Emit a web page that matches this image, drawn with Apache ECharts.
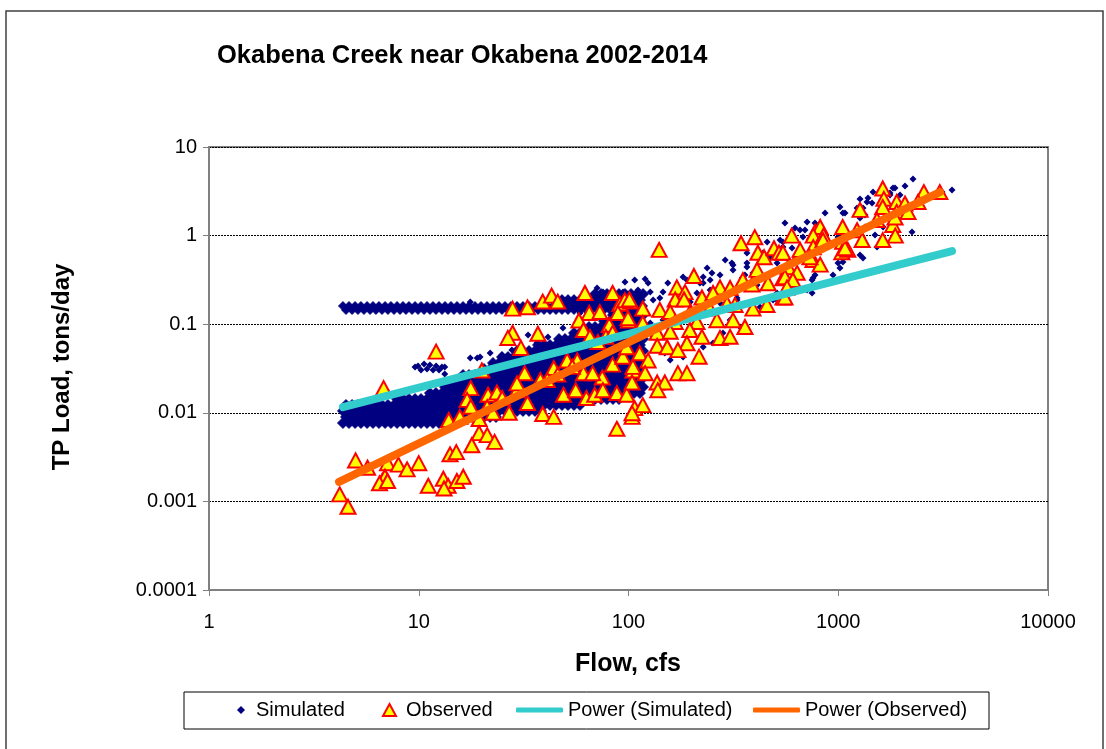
<!DOCTYPE html>
<html>
<head>
<meta charset="utf-8">
<script src="https://cdn.jsdelivr.net/npm/echarts@6/dist/echarts.min.js"></script>
<style>
html,body{margin:0;padding:0;background:#fff;}
#chart{width:1106px;height:749px;}
</style>
</head>
<body>
<div id="chart"></div>
<script>
// ---------- DATA ----------
const titleText = 'Okabena Creek near Okabena 2002-2014';
const xAxisName = 'Flow, cfs';
const yAxisName = 'TP Load, tons/day';
const xTickLabels = ['1', '10', '100', '1000', '10000'];
const yTickLabels = ['0.0001', '0.001', '0.01', '0.1', '1', '10'];

// Dense part of the simulated cloud, read row by row: [load, [flows]]
const simulatedCloudRows = [
  [0.00767, [4.35,4.65,4.97,5.30,5.67,6.05,6.46,6.91,7.37,7.88,8.41,8.98,9.60,10.25,10.95,11.69,12.49,13.34,14.25,15.22]],
  [0.00897, [4.50,4.81,5.13,5.48,5.86,6.25,6.68,7.13,7.62,8.14,8.69,9.29,9.92,10.60,11.31,12.08,12.91,13.79,14.72,15.73,16.80,17.94,19.17,20.47,21.87,23.35]],
  [0.0105, [4.35,4.65,4.97,5.30,5.67,6.05,6.46,6.91,7.37,7.88,8.41,8.98,9.60,10.25,10.95,11.69,12.49,13.34,14.25,15.22,16.26,17.36,18.54,19.81,21.15,22.59,24.13,25.77,27.53,29.40,31.40,33.54,35.82,38.26]],
  [0.01225, [4.50,4.81,5.13,5.48,5.86,6.25,6.68,7.13,7.62,8.14,8.69,9.29,9.92,10.60,11.31,12.08,12.91,13.79,14.72,15.73,16.80,17.94,19.17,20.47,21.87,23.35,24.94,26.64,28.45,30.39,32.46,34.67,37.03,39.55,42.24,45.11,48.18,51.47,54.97,58.71]],
  [0.0143, [7.88,8.41,8.98,9.60,10.25,10.95,11.69,12.49,13.34,14.25,15.22,16.26,17.36,18.54,19.81,21.15,22.59,24.13,25.77,27.53,29.40,31.40,33.54,35.82,38.26,40.87,43.65,46.63,49.80,53.19,56.81,60.68,64.81,69.22,73.94,78.97,84.35,90.09]],
  [0.0167, [11.31,12.08,12.91,13.79,14.72,15.73,16.80,17.94,19.17,20.47,21.87,23.35,24.94,26.64,28.45,30.39,32.46,34.67,37.03,39.55,42.24,45.11,48.18,51.47,54.97,58.71,62.71,66.98,71.54,76.41,81.61,87.17,93.10,99.44,106.2,113.4]],
  [0.01955, [13.34,14.25,15.22,16.26,17.36,18.54,19.81,21.15,22.59,24.13,25.77,27.53,29.40,31.40,33.54,35.82,38.26,40.87,43.65,46.63,49.80,53.19,56.81,60.68,64.81,69.22,73.94,78.97,84.35,90.09,96.23,102.8,109.8,117.3]],
  [0.02285, [14.72,15.73,16.80,17.94,19.17,20.47,21.87,23.35,24.94,26.64,28.45,30.39,32.46,34.67,37.03,39.55,42.24,45.11,48.18,51.47,54.97,58.71,62.71,66.98,71.54,76.41,81.61,87.17,93.10,99.44,106.2,113.4]],
  [0.0267, [16.26,17.36,18.54,19.81,21.15,22.59,24.13,25.77,27.53,29.40,31.40,33.54,35.82,38.26,40.87,43.65,46.63,49.80,53.19,56.81,60.68,64.81,69.22,73.94,78.97,84.35,90.09,96.23,102.8,109.8,117.3]],
  [0.0312, [20.47,21.87,23.35,24.94,26.64,28.45,30.39,32.46,34.67,37.03,39.55,42.24,45.11,48.18,51.47,54.97,58.71,62.71,66.98,71.54,76.41,81.61,87.17,93.10,99.44,106.2,113.4]],
  [0.0365, [22.59,24.13,25.77,27.53,29.40,31.40,33.54,35.82,38.26,40.87,43.65,46.63,49.80,53.19,56.81,60.68,64.81,69.22,73.94,78.97,84.35,90.09,96.23,102.8,109.8,117.3]],
  [0.0426, [24.94,26.64,28.45,30.39,32.46,34.67,37.03,39.55,42.24,45.11,48.18,51.47,54.97,58.71,62.71,66.98,71.54,76.41,81.61,87.17,93.10,99.44,106.2,113.4]],
  [0.0498, [29.40,31.40,33.54,35.82,38.26,40.87,43.65,46.63,49.80,53.19,56.81,60.68,64.81,69.22,73.94,78.97,84.35,90.09,96.23,102.8,109.8,117.3]],
  [0.0582, [37.03,39.55,42.24,45.11,48.18,51.47,54.97,58.71,62.71,66.98,71.54,76.41,81.61,87.17,93.10,99.44,106.2,113.4]],
  [0.0680, [46.63,49.80,53.19,56.81,60.68,64.81,69.22,73.94,78.97,84.35,90.09,96.23,102.8,109.8,117.3]],
  [0.0795, [54.97,58.71,62.71,66.98,71.54,76.41,81.61,87.17,93.10,99.44,106.2,113.4]],
  [0.0929, [64.81,69.22,73.94,78.97,84.35,90.09,96.23,102.8,109.8,117.3]],
  [0.1086, [76.41,81.61,87.17,93.10,99.44,106.2,113.4]],
  [0.1269, [84.35,90.09,96.23,102.8,109.8,117.3]],
  [0.187, [48.18,51.47,54.97,58.71,62.71,66.98,71.54,76.41,81.61,87.17,93.10,99.44,106.2,113.4]],
  [0.219, [69.22,73.94,78.97,84.35,90.09,96.23,102.8,109.8,117.3]]
];

// The flat upper band of the simulated cloud (~0.15 tons/day)
const simulatedBandRows = [
  [0.1446, [4.50,4.81,5.13,5.48,5.86,6.25,6.68,7.13,7.62,8.14,8.69,9.29,9.92,10.60,11.31,12.08,12.91,13.79,14.72,15.73,16.80,17.94,19.17,20.47,21.87,23.35,24.94,26.64,28.45,30.39,32.46,34.67,37.03,39.55,42.24,45.11,48.18,51.47,54.97,58.71,62.71,66.98,71.54,76.41,81.61,87.17,93.10,99.44,106.2,113.4]],
  [0.1605, [4.35,4.65,4.97,5.30,5.67,6.05,6.46,6.91,7.37,7.88,8.41,8.98,9.60,10.25,10.95,11.69,12.49,13.34,14.25,15.22,16.26,17.36,18.54,19.81,21.15,22.59,24.13,25.77,27.53,29.40,31.40,33.54,35.82,38.26,40.87,43.65,46.63,49.80,53.19,56.81,60.68,64.81,69.22,73.94,78.97,84.35,90.09,96.23,102.8,109.8,117.3]]
];

// Individual simulated points outside the dense cloud: [flow, load]
const simulatedScatter = [
  [96.2,0.299],[107,0.315],[120,0.324],[124,0.292],[111,0.243],[127,0.231],[146,0.231],[154,0.292],[182,0.341],[190,0.315],
  [237,0.431],[250,0.378],[273,0.359],[289,0.53],[315,0.466],[367,0.636],[367,0.491],[458,0.847],[473,0.573],[511,0.491],
  [545,0.847],[141,0.198],[131,0.187],[245,0.243],[227,0.292],[212,0.225],[410,0.277],[329,0.198],[273,0.173],[197,0.178],
  [237,0.156],[305,0.1115],[340,0.0929],[424,0.156],[511,0.187],[219,0.0929],[190,0.1115],[146,0.1115],[127,0.103],[113,0.086],
  [131,0.0717],[227,0.0553],[253,0.0614],[282,0.0795],[105,0.0553],[149,0.0473],[158,0.0394],[182,0.0426],[98.4,0.0394],[102,0.0304],
  [94.2,0.0235],[122,0.0365],
  [710,1.424],[775,1.387],[694,1.157],[528,0.892],[311,0.491],[315,0.409],[227,0.341],[219,0.292],[245,0.315],[367,0.442],
  [359,0.359],[348,0.332],[392,0.378],[438,0.636],[545,0.744],[758,0.332],[750,0.225],[710,0.243],[511,0.225],[489,0.187],
  [329,0.187],[333,0.156],
  [2272,4.35],[3485,3.27],[1865,3.44],[2081,3.63],[1465,3.105],[1765,2.87],[1270,2.59],[1371,2.39],[1229,2.05],[1019,2.1],
  [865,1.8],[1053,1.8],[557,1.387],[622,1.218],[657,1.157],[846,1.07],[1270,1.579],[1341,1.251],[1341,1.708],[1635,1.251],
  [2247,1.098],[1270,0.604],[1312,0.559],[997,0.491],[1053,0.504],[1019,0.431],[944,0.359],[775,0.359],[750,0.315],[602,0.724],
  [679,0.964],[997,0.964],[1138,1.016],[1497,1.016],[1671,0.825],[1865,0.892],[1530,0.744],[1824,3.44],[1765,3.025],[1970,2.87],
  [1449,2.333],[1312,2.049],[1077,1.8],[3124,3.105],[1386,2.657],
  [33.2,0.0755],[36.6,0.0614],[41.3,0.0717],[48.7,0.0906],[58.7,0.134],[19.6,0.0426],[21.9,0.0473],[24.9,0.0449],[27.8,0.0511],
  [70.8,0.256],[75.6,0.231],[88.2,0.198],[94.2,0.231],[17.6,0.178],[17.6,0.0415],[19.0,0.0415],[13.3,0.0329],[13.3,0.0274],
  [9.92,0.0337],[10.6,0.0355],[11.3,0.0346],[12.1,0.0337],[12.9,0.0329],[10.25,0.0304],[10.95,0.0312],[11.7,0.0304],[12.5,0.0304],[9.6,0.0329]
];

// Observed samples: [flow, load]
const observedPoints = [
  [12.1,0.049],[6.8,0.019],[20,0.030],[17.7,0.019],[17,0.014],[17.7,0.0117],[13.9,0.0083],[15.7,0.009],[19.4,0.0085],[21.4,0.016],
  [21.2,0.0116],[19.4,0.0059],[21.2,0.0056],[17.9,0.0043],[14.1,0.0034],[15.1,0.0036],[5.0,0.0029],[5.7,0.0024],[7.1,0.0027],[8.0,0.0026],
  [8.8,0.0023],[10.0,0.0027],[6.7,0.0017],[6.9,0.0019],[6.5,0.0016],[7.1,0.0017],[11.1,0.0015],[13.1,0.0018],[13.8,0.0015],[15.2,0.0017],
  [16.3,0.0019],[13.2,0.0014],[4.2,0.0012],[4.6,0.00087],
  [28,0.15],[33,0.155],[39,0.18],[43,0.21],[46,0.18],[62,0.225],[84,0.225],[91,0.17],[102,0.18],[65,0.134],
  [73,0.137],[58,0.11],[81,0.098],[89,0.134],[100,0.11],[28,0.08],[26.6,0.07],[37,0.078],[30.7,0.054],[61,0.086],
  [65.5,0.072],[78,0.072],[84,0.08],[32,0.028],[44,0.032],[51,0.039],[57,0.039],[61,0.028],[75,0.025],[84,0.035],
  [94,0.043],[105,0.030],[38,0.0235],[41,0.0235],[46,0.027],[49,0.016],[56,0.018],[63,0.0147],[69,0.016],[75.5,0.018],
  [88,0.0167],[98,0.016],[29.4,0.018],[23.6,0.017],[25,0.0147],[33,0.0129],[27,0.01],[22.6,0.01],[39,0.0097],[44,0.009],
  [104,0.009],[88,0.0066],[23,0.0047],[71.5,0.063],[67.5,0.028],[54,0.033],[29.4,0.0215],[96,0.187],
  [140,0.69],[344,0.82],[400,0.96],[414,0.64],[443,0.57],[494,0.72],[522,0.64],[410,0.41],[205,0.35],[170,0.26],
  [186,0.23],[224,0.2],[273,0.26],[305,0.256],[351,0.315],[388,0.28],[463,0.29],[545,0.33],[101,0.19],[117,0.15],
  [167,0.19],[184,0.19],[99.5,0.117],[141,0.145],[158,0.137],[196,0.134],[244,0.15],[295,0.17],[322,0.165],[392,0.15],
  [457,0.165],[545,0.2],[117,0.103],[167,0.106],[212,0.106],[264,0.111],[359,0.093],[137,0.08],[158,0.082],[196,0.086],
  [224,0.072],[273,0.07],[305,0.072],[98,0.055],[113,0.047],[137,0.057],[153,0.055],[190,0.061],[172,0.051],[124,0.039],
  [217,0.043],[105,0.033],[120,0.028],[172,0.028],[190,0.028],[104,0.022],[137,0.022],[149,0.022],[138,0.018],[107,0.0113],
  [117,0.0122],[104,0.0099],[253,0.225],[315,0.111],[657,0.636],[775,1.1],[758,0.53],
  [1630,3.4],[1650,2.6],[2560,3.1],[3050,3.1],[1900,2.4],[2080,2.3],[2400,2.4],[1270,1.95],[1630,2.1],[1900,1.85],
  [2150,1.85],[1050,1.25],[820,1.25],[1230,1.15],[1530,1.5],[1820,1.32],[600,1.0],[760,1.0],[850,1.0],[1870,1.0],
  [1630,0.89],[1300,0.89],[1050,0.85],[545,0.64],[658,0.69],[760,0.74],[1040,0.65],[1110,0.69],[820,0.47],[733,0.57],
  [577,0.44],[637,0.38],[557,0.34],[608,0.315],[557,0.2],[570,0.26],[1865,1.6],[1077,0.72],[846,0.89]
];

// Power trend lines (end points of the fitted lines): [flow, load]
const powerSimulated = [[4.35, 0.0116], [3485, 0.67]];
const powerObserved = [[4.17, 0.00166], [3055, 3.1]];

// ---------- BUILD ----------
function rowsToPoints(rows) {
  const out = [];
  rows.forEach(r => r[1].forEach(f => out.push([f, r[0]])));
  return out;
}
const FONT = '"Liberation Sans", Arial, sans-serif';
const chart = echarts.init(document.getElementById('chart'), null, {renderer: 'canvas'});

const simStyle = {color: '#000080', opacity: 1, borderColor: '#000080', borderWidth: 0.8};
const legendCommon = {
  top: 700, padding: 0, orient: 'horizontal', selectedMode: false,
  textStyle: {fontFamily: FONT, fontSize: 20, color: '#000', lineHeight: 20}
};

chart.setOption({
  animation: false,
  backgroundColor: '#fff',
  grid: {left: 209, top: 147, width: 839, height: 443, show: true, borderColor: '#808080', borderWidth: 2, backgroundColor: '#fff'},
  xAxis: {
    type: 'log', logBase: 10, min: 1, max: 10000,
    axisLine: {show: true, lineStyle: {color: '#808080', width: 2}},
    axisTick: {show: true, length: 6, lineStyle: {color: '#808080', width: 1}},
    axisLabel: {fontFamily: FONT, fontSize: 20, color: '#000', margin: 22,
      formatter: v => xTickLabels[Math.round(Math.log10(v))]},
    splitLine: {show: false}, minorTick: {show: false}
  },
  yAxis: {
    type: 'log', logBase: 10, min: 0.0001, max: 10,
    axisLine: {show: true, lineStyle: {color: '#808080', width: 2}},
    axisTick: {show: true, length: 6, lineStyle: {color: '#808080', width: 1}},
    axisLabel: {fontFamily: FONT, fontSize: 20, color: '#000', margin: 12,
      formatter: v => yTickLabels[Math.round(Math.log10(v)) + 4]},
    splitLine: {show: true, lineStyle: {color: '#000', width: 1, type: [2, 1]}},
    minorTick: {show: false}
  },
  legend: [
    Object.assign({}, legendCommon, {left: 237, itemWidth: 8, itemHeight: 8,
      data: [{name: 'Simulated', icon: 'diamond', itemStyle: {color: '#000080', borderWidth: 0}, textStyle: {padding: [0, 0, 0, 6]}}]}),
    Object.assign({}, legendCommon, {left: 382, itemWidth: 13, itemHeight: 12,
      data: [{name: 'Observed', icon: 'triangle', textStyle: {padding: [0, 0, 0, 5]}}]}),
    Object.assign({}, legendCommon, {left: 516, itemWidth: 47, itemHeight: 5,
      data: [{name: 'Power (Simulated)', icon: 'roundRect', itemStyle: {color: '#33CCCC'}}]}),
    Object.assign({}, legendCommon, {left: 753, itemWidth: 47, itemHeight: 5,
      data: [{name: 'Power (Observed)', icon: 'roundRect', itemStyle: {color: '#FF6600'}}]})
  ],
  graphic: [
    {type: 'rect', shape: {x: 6, y: 11, width: 1097, height: 760}, style: {fill: 'none', stroke: '#404040', lineWidth: 1.5}, silent: true, z: -10},
    {type: 'rect', shape: {x: 184, y: 692, width: 805, height: 37}, style: {fill: 'none', stroke: '#000', lineWidth: 1}, silent: true},
    {type: 'text', x: 217, y: 56, style: {text: titleText, fontFamily: FONT, fontWeight: 'bold', fontSize: 25.5, fill: '#000', align: 'left', verticalAlign: 'middle'}},
    {type: 'text', x: 628, y: 664, style: {text: xAxisName, fontFamily: FONT, fontWeight: 'bold', fontSize: 25, fill: '#000', align: 'center', verticalAlign: 'middle'}},
    {type: 'text', x: 62, y: 367, rotation: Math.PI / 2, style: {text: yAxisName, fontFamily: FONT, fontWeight: 'bold', fontSize: 24, fill: '#000', align: 'center', verticalAlign: 'middle'}}
  ],
  series: [
    {name: 'Simulated', type: 'scatter', symbol: 'diamond', symbolSize: 11, itemStyle: simStyle,
      data: rowsToPoints(simulatedCloudRows), z: 2, silent: true},
    {name: 'Simulated', type: 'scatter', symbol: 'diamond', symbolSize: 9, itemStyle: simStyle,
      data: rowsToPoints(simulatedBandRows), z: 2, silent: true},
    {name: 'Simulated', type: 'scatter', symbol: 'diamond', symbolSize: 7, itemStyle: {color: '#000080', opacity: 1},
      data: simulatedScatter, z: 2, silent: true},
    {name: 'Observed', type: 'scatter', symbol: 'triangle', symbolSize: [15, 14],
      itemStyle: {color: '#FFFF00', borderColor: '#FF0000', borderWidth: 2, opacity: 1},
      data: observedPoints, z: 3, silent: true},
    {name: 'Power (Simulated)', type: 'line', data: powerSimulated, symbol: 'none', showSymbol: false, z: 4, silent: true,
      itemStyle: {color: '#33CCCC'}, lineStyle: {color: '#33CCCC', width: 8, cap: 'round'}},
    {name: 'Power (Observed)', type: 'line', data: powerObserved, symbol: 'none', showSymbol: false, z: 5, silent: true,
      itemStyle: {color: '#FF6600'}, lineStyle: {color: '#FF6600', width: 8, cap: 'round'}}
  ]
});
</script>
</body>
</html>
